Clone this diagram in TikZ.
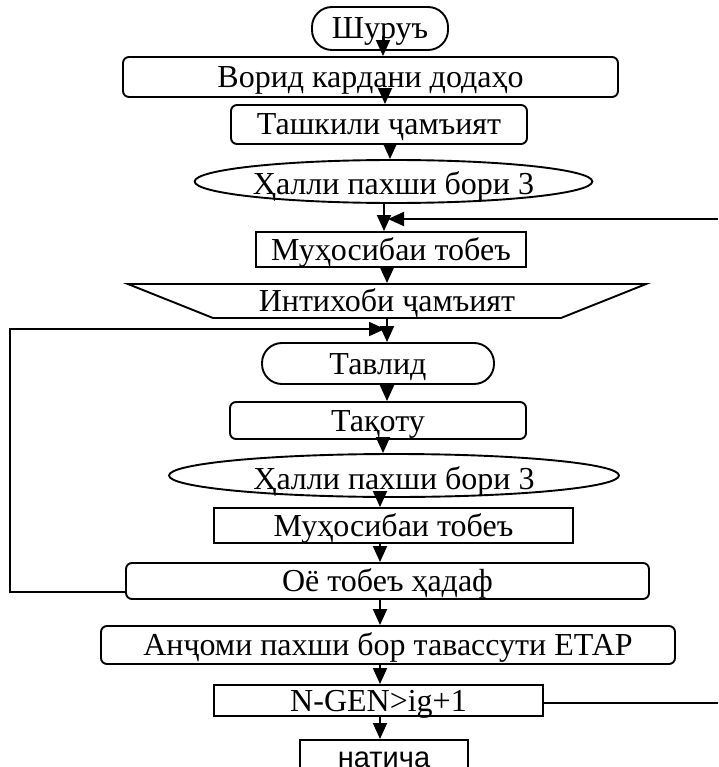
\documentclass[tikz,border=0pt]{standalone}
\usepackage{fontspec}
\setmainfont{Liberation Serif}
\newfontfamily\sansf{Liberation Sans}
\usetikzlibrary{shapes.geometric,arrows.meta}
\begin{document}
\begin{tikzpicture}[x=1pt,y=-1pt,
  every node/.style={inner sep=0pt, font=\fontsize{32}{34}\selectfont, text height=21pt, text depth=0pt},
  shp/.style={draw, line width=1.9pt},
  rbox/.style={shp, rounded corners=6pt},
  sbox/.style={shp},
  term/.style={shp, rounded corners=20pt},
  ell/.style={shp, ellipse, text height=27pt},
  arr/.style={line width=1.9pt, -{Triangle[length=16pt,width=14pt]}},
  ln/.style={line width=1.9pt}]
\useasboundingbox (0,0) rectangle (718,767);
\clip (0,0) rectangle (718,767);
\node[term, minimum width=136pt, minimum height=43pt] (start) at (380,28.5) {Шуруъ};
\node[rbox, minimum width=495pt, minimum height=40pt] (inp) at (370.5,77) {Ворид кардани додаҳо};
\node[rbox, minimum width=296pt, minimum height=39pt] (init) at (379,124.5) {Ташкили ҷамъият};
\node[ell, minimum width=393pt, minimum height=43pt] (ell1) at (393.5,181.5) {Ҳалли пахши бори 3};
\node[sbox, minimum width=270pt, minimum height=35pt] (fit1) at (391,249.5) {Муҳосибаи тобеъ};
\node[shp, trapezium, trapezium stretches=true, shape border rotate=180,
      trapezium left angle=18.5, trapezium right angle=18.5,
      minimum width=520pt, minimum height=34pt] (sel) at (387,301) {Интихоби ҷамъият};
\node[term, minimum width=232pt, minimum height=41pt] (gen) at (378,363.5) {Тавлид};
\node[rbox, minimum width=296pt, minimum height=37pt] (cross) at (378,420.5) {Тақоту};
\node[ell, minimum width=450pt, minimum height=43pt] (ell2) at (394,475.5) {Ҳалли пахши бори 3};
\node[sbox, minimum width=359pt, minimum height=35pt] (fit2) at (393.5,525.5) {Муҳосибаи тобеъ};
\node[rbox, minimum width=523pt, minimum height=36pt] (goal) at (387.5,581) {Оё тобеъ ҳадаф};
\node[rbox, minimum width=574pt, minimum height=38pt] (etap) at (388,645) {Анҷоми пахши бор тавассути ЕТАР};
\node[sbox, minimum width=329pt, minimum height=31pt] (cond) at (378.5,700.5) {N-GEN>ig+1};
\node[sbox, minimum width=168pt, minimum height=36pt, font=\sansf\fontsize{29}{31}\selectfont, text height=20pt, anchor=north] (res) at (384,739) {натича};
% column coordinates
\coordinate (c383) at (383,0);
\coordinate (c385) at (385,0);
\coordinate (c390) at (390,0);
\coordinate (c384) at (384,0);
\coordinate (c387) at (387,0);
\coordinate (c380) at (380,0);
\draw[arr] ([yshift=-8pt]start.center -| c383) -- (inp.north -| c383);
\draw[arr] (inp.south -| c385) -- (init.north -| c385);
\draw[arr] (init.south -| c390) -- (ell1.north -| c390);
\draw[arr] (ell1.south -| c384) -- (fit1.north -| c384);
\draw[arr] (fit1.south -| c387) -- (sel.north -| c387);
\draw[arr] (sel.south -| c387) -- (gen.north -| c387);
\draw[arr] (gen.south -| c387) -- (cross.north -| c387);
\draw[arr] (cross.south -| c383) -- (ell2.north -| c383);
\draw[arr] (ell2.south -| c380) -- (fit2.north -| c380);
\draw[arr] (fit2.south -| c380) -- (goal.north -| c380);
\draw[arr] (goal.south -| c380) -- (etap.north -| c380);
\draw[arr] (etap.south -| c380) -- (cond.north -| c380);
\draw[arr] (cond.south -| c380) -- (res.north -| c380);
% right loop
\coordinate (Rt) at (718,219);
\coordinate (Rend) at (388,219);
\coordinate (Rb) at (718,703);
\draw[arr] (Rt) -- (Rend);
\draw[ln] ([yshift=-2.5pt]cond.east) -- ([yshift=-2.5pt]cond.east -| Rb);
% left loop
\coordinate (Lb) at (10,592);
\coordinate (Lt) at (10,329);
\coordinate (Lend) at (385,329);
\draw[arr] ([yshift=-11pt]goal.west) -- (Lb) -- (Lt) -- (Lend);
\end{tikzpicture}
\end{document}
